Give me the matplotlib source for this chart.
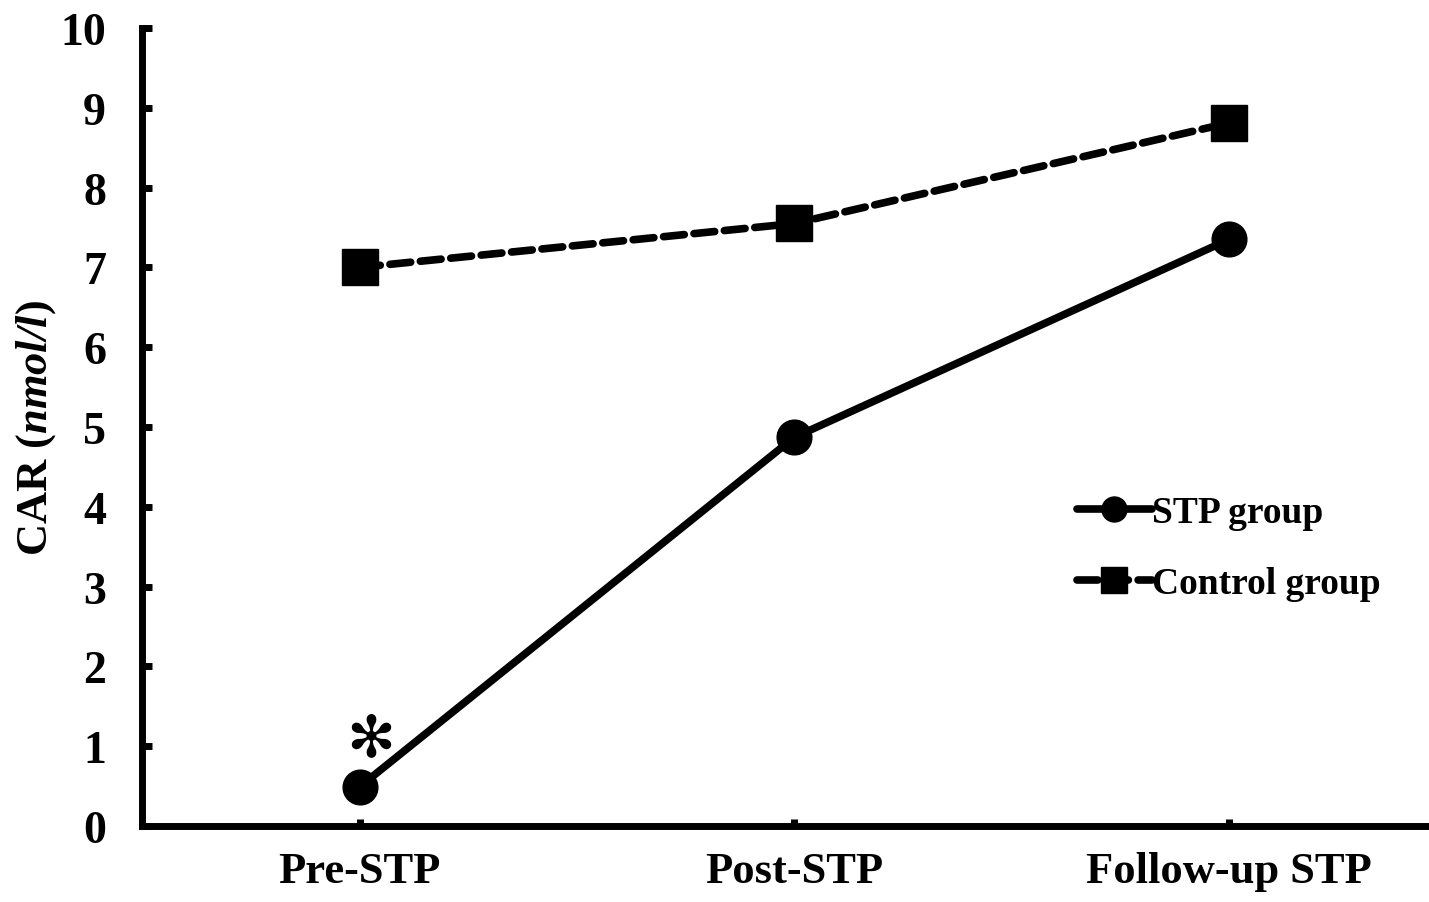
import matplotlib
matplotlib.use('Agg')
import matplotlib.pyplot as plt

# data
stages = ['Pre-STP', 'Post-STP', 'Follow-up STP']
stp = [0.49, 4.87, 7.35]
control = [7.0, 7.55, 8.81]
yticks = list(range(0, 11))

plt.rcParams['font.family'] = ['Liberation Serif', 'DejaVu Serif']
plt.rcParams['font.weight'] = 'bold'
plt.rcParams['lines.scale_dashes'] = False
plt.rcParams['mathtext.fontset'] = 'custom'
plt.rcParams['mathtext.bfit'] = 'Liberation Serif:italic:bold'
plt.rcParams['mathtext.rm'] = 'Liberation Serif:bold'

fig = plt.figure(figsize=(14.29, 9.03), dpi=100)
ax = fig.add_axes([0.0995, 0.0842, 0.9005, 0.8837])

x = range(len(stages))
ax.plot(x, stp, color='black', lw=5.5, marker='o', ms=25,
        solid_capstyle='round', label='STP group', zorder=3)
ax.plot(x, control, color='black', lw=5.5, marker='s', ms=26,
        dashes=(15, 7), dash_capstyle='round', label='Control group', zorder=3)

ax.text(0.025, stp[0] + 0.6, '\u273b', family='DejaVu Sans', fontsize=42,
        ha='center', va='center')

ax.set_xlim(-0.5, 2.46)
ax.set_ylim(0, 10)
ax.set_xticks(list(x))
ax.set_xticklabels(stages)
ax.set_yticks(yticks)

for s in ['top', 'right']:
    ax.spines[s].set_visible(False)
for s in ['left', 'bottom']:
    ax.spines[s].set_linewidth(5)
ax.tick_params(axis='y', direction='in', length=7, width=5, pad=26, labelsize=33)
ax.tick_params(axis='x', direction='in', length=5, width=5, pad=18, labelsize=32)

ax.set_ylabel('CAR ($\\mathbfit{nmol/l}$)', fontsize=32, fontweight='bold', labelpad=2)

leg = ax.legend(loc='upper left', bbox_to_anchor=(0.7, 0.457), frameon=False,
                fontsize=27, handlelength=2.0, handletextpad=0.0,
                labelspacing=0.95, markerscale=0.72)

fig.savefig('out.png', dpi=100)
